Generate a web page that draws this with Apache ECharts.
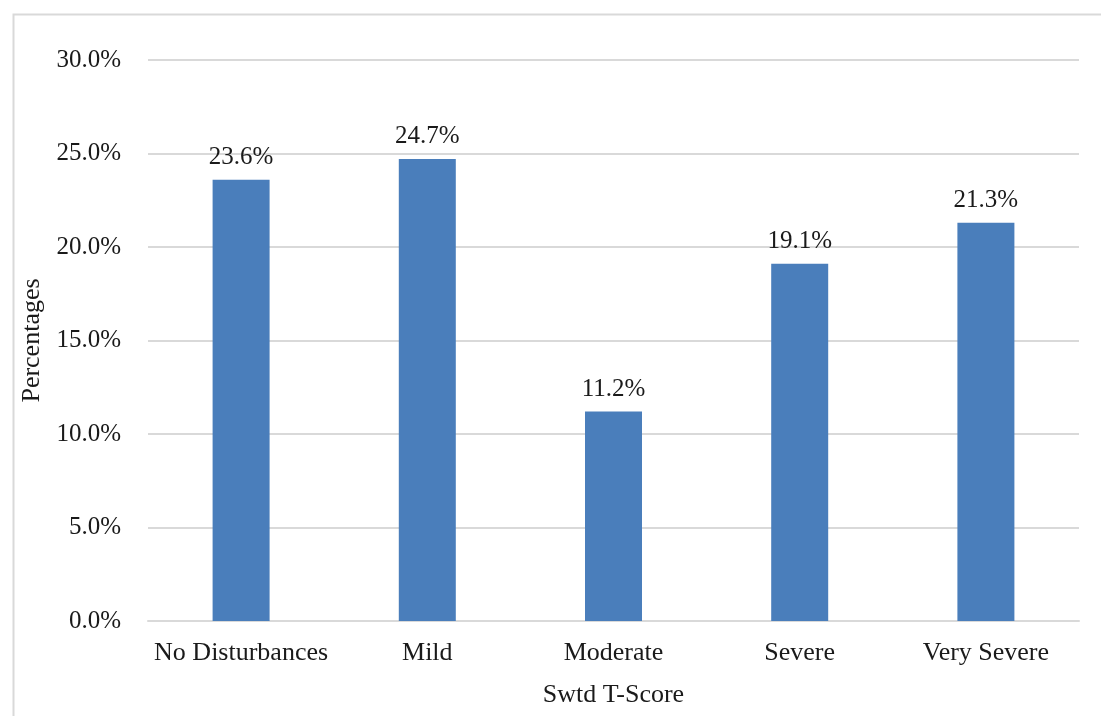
<!DOCTYPE html>
<html>
<head>
<meta charset="utf-8">
<script src="https://cdn.jsdelivr.net/npm/echarts@6/dist/echarts.min.js"></script>
<style>
  html, body { margin: 0; padding: 0; background: #fff; }
  #chart { width: 1101px; height: 716px; }
</style>
</head>
<body>
<div id="chart"></div>
<script>
// * Categories and values
const categories = ["No Disturbances", "Mild", "Moderate", "Severe", "Very Severe"];
const percentages = [23.6, 24.7, 11.2, 19.1, 21.3];
const yTicks = [0, 5, 10, 15, 20, 25, 30];

const fontFamily = "'Liberation Serif', 'Times New Roman', serif";
const textColor = "#1a1a1a";
const barColor = "#4a7ebb";

const myChart = echarts.init(document.getElementById("chart"));

const option = {
  backgroundColor: "#fff",
  animation: false,
  textStyle: { fontFamily: fontFamily },
  // * Thin frame around the chart area
  graphic: [
    {
      type: "rect",
      left: 11,
      top: 12,
      shape: { width: 1100, height: 710 },
      style: { fill: "none", stroke: "#d9d9d9", lineWidth: 2 },
      silent: true,
    },
  ],
  grid: {
    left: 148,
    right: 22,
    top: 60,
    bottom: 95,
    containLabel: false,
  },
  xAxis: {
    type: "category",
    data: categories,
    name: "Swtd T-Score",
    nameLocation: "middle",
    nameGap: 61,
    nameTextStyle: { fontSize: 26, color: textColor, fontFamily: fontFamily },
    axisLine: { show: true, lineStyle: { color: "#d9d9d9", width: 2 } },
    axisTick: { show: false },
    axisLabel: {
      interval: 0,
      fontSize: 26,
      color: textColor,
      margin: 19,
      fontFamily: fontFamily,
    },
  },
  yAxis: {
    type: "value",
    min: yTicks[0],
    max: yTicks[yTicks.length - 1],
    interval: 5,
    name: "Percentages",
    nameLocation: "middle",
    nameGap: 98,
    nameTextStyle: { fontSize: 26, color: textColor, fontFamily: fontFamily },
    axisLine: { show: false },
    axisTick: { show: false },
    splitLine: { lineStyle: { color: "#d9d9d9", width: 2 } },
    axisLabel: {
      fontSize: 25,
      color: textColor,
      margin: 27,
      fontFamily: fontFamily,
      formatter: (v) => v.toFixed(1) + "%",
    },
  },
  series: [
    {
      name: "Percentages",
      type: "bar",
      data: percentages,
      barWidth: 57,
      itemStyle: { color: barColor },
      label: {
        show: true,
        position: "top",
        distance: 10,
        fontSize: 25,
        color: textColor,
        fontFamily: fontFamily,
        formatter: (p) => p.value.toFixed(1) + "%",
      },
    },
  ],
};

myChart.setOption(option);
</script>
</body>
</html>
